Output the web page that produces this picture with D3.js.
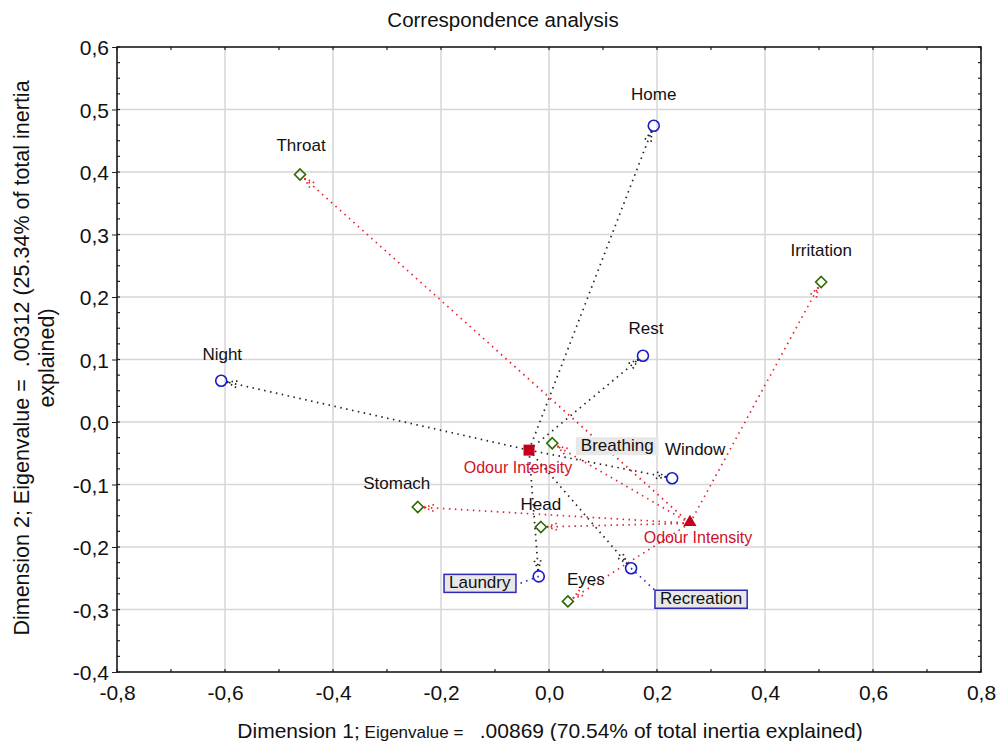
<!DOCTYPE html>
<html>
<head>
<meta charset="utf-8">
<script src="https://cdn.jsdelivr.net/npm/d3@7"></script>
<style>
  html, body { margin: 0; padding: 0; background: #fff; }
  svg { display: block; }
  text { font-family: "Liberation Sans", Arial, sans-serif; }
</style>
</head>
<body>
<svg id="chart" width="996" height="741"></svg>
<script>
// ---------- DATA ----------
const rowNames = ["Home", "Rest", "Night", "Window", "Laundry", "Recreation"];
const rowDim1  = [0.194, 0.174, -0.607, 0.228, -0.019, 0.152];
const rowDim2  = [0.474, 0.106, 0.066, -0.090, -0.247, -0.234];

const colNames = ["Throat", "Irritation", "Breathing", "Stomach", "Head", "Eyes"];
const colDim1  = [-0.461, 0.504, 0.006, -0.243, -0.015, 0.035];
const colDim2  = [0.396, 0.224, -0.034, -0.136, -0.168, -0.287];

const suppNames = ["Odour Intensity", "Odour Intensity"];
const suppDim1  = [-0.037, 0.261];
const suppDim2  = [-0.045, -0.162];

const xTicks = [-0.8, -0.6, -0.4, -0.2, 0.0, 0.2, 0.4, 0.6, 0.8];
const yTicks = [-0.4, -0.3, -0.2, -0.1, 0.0, 0.1, 0.2, 0.3, 0.4, 0.5, 0.6];

const title = "Correspondence analysis";
const xTitle = ["Dimension 1;", " Eigenvalue = ", "  .00869 (70.54% of total inertia explained)"];
const yTitle = ["Dimension 2; Eigenvalue =  .00312 (25.34% of total inertia", "explained)"];

// ---------- LAYOUT ----------
const svg = d3.select("#chart");
const L = 117, R = 981, T = 47, B = 672;
const x = d3.scaleLinear().domain([-0.8, 0.8]).range([L, R]);
const y = d3.scaleLinear().domain([-0.4, 0.6]).range([B, T]);
const fmt = v => d3.format(".1f")(v).replace(".", ",").replace("\u2212", "-");

const rows = rowNames.map((n, i) => ({ name: n, x: rowDim1[i], y: rowDim2[i] }));
const cols = colNames.map((n, i) => ({ name: n, x: colDim1[i], y: colDim2[i] }));
const supp = suppNames.map((n, i) => ({ name: n, x: suppDim1[i], y: suppDim2[i] }));

// grid
const grid = svg.append("g");
grid.selectAll("line.vx").data(xTicks.slice(1, -1)).join("line")
  .attr("x1", d => x(d)).attr("x2", d => x(d)).attr("y1", T).attr("y2", B)
  .attr("stroke", "#d6d6d6").attr("stroke-width", 1.5);
grid.selectAll("line.hy").data(yTicks.slice(1, -1)).join("line")
  .attr("y1", d => y(d)).attr("y2", d => y(d)).attr("x1", L).attr("x2", R)
  .attr("stroke", "#d6d6d6").attr("stroke-width", 1.5);

// axes
const xMinor = d3.range(-0.8, 0.8001, 0.1);
const yMinor = d3.range(-0.4, 0.6001, 0.025);

const axB = svg.append("g").attr("transform", `translate(0,${B})`)
  .call(d3.axisBottom(x).tickValues(xTicks).tickFormat(fmt).tickSize(0).tickPadding(13));
const axL = svg.append("g").attr("transform", `translate(${L},0)`)
  .call(d3.axisLeft(y).tickValues(yTicks).tickFormat(fmt).tickSize(5).tickPadding(3));
[axB, axL].forEach(a => {
  a.select(".domain").remove();
  a.selectAll("text").attr("font-size", 21).attr("fill", "#111")
    .attr("font-family", "'Liberation Sans', Arial, sans-serif");
  a.selectAll("line").attr("stroke", "#222");
});
axL.selectAll("text").attr("dy", "0.36em");

// minor ticks (inward)
const mt = svg.append("g").attr("stroke", "#222").attr("stroke-width", 1.2);
mt.selectAll("line.bt").data(xMinor).join("line")
  .attr("x1", d => x(d)).attr("x2", d => x(d)).attr("y1", B).attr("y2", B - 3);
mt.selectAll("line.tt").data(xMinor).join("line")
  .attr("x1", d => x(d)).attr("x2", d => x(d)).attr("y1", T).attr("y2", T + 3);
mt.selectAll("line.lt").data(yMinor).join("line")
  .attr("y1", d => y(d)).attr("y2", d => y(d)).attr("x1", L).attr("x2", L + 3);
mt.selectAll("line.rt").data(yMinor).join("line")
  .attr("y1", d => y(d)).attr("y2", d => y(d)).attr("x1", R).attr("x2", R - 3);

// frame
svg.append("rect").attr("x", L).attr("y", T).attr("width", R - L).attr("height", B - T)
  .attr("fill", "none").attr("stroke", "#1a1a1a").attr("stroke-width", 1.6);

// ---------- LINKS ----------
const links = svg.append("g");
function arrow(from, to, color, r) {
  const x0 = x(from.x), y0 = y(from.y), x1 = x(to.x), y1 = y(to.y);
  const ang = Math.atan2(y1 - y0, x1 - x0);
  const tx = x1 - Math.cos(ang) * r, ty = y1 - Math.sin(ang) * r;
  const g = links.append("g").attr("stroke", color).attr("stroke-width", 1.7)
    .attr("stroke-dasharray", "1.5,4.5").attr("fill", "none");
  g.append("line").attr("x1", x0).attr("y1", y0).attr("x2", tx).attr("y2", ty);
  [0.32, -0.32].forEach(a => {
    g.append("line").attr("x1", tx).attr("y1", ty)
      .attr("x2", tx - Math.cos(ang + a) * 13).attr("y2", ty - Math.sin(ang + a) * 13)
      .attr("stroke-dasharray", "1.5,3");
  });
}
rows.forEach(p => arrow(supp[0], p, "#222", 6));
cols.forEach(p => arrow(supp[1], p, "#e8202a", 6));

// ---------- LABELS ----------
const labelStyle = {
  "Home": { dx: 0, dy: -26 }, "Rest": { dx: 3, dy: -22 }, "Night": { dx: 1, dy: -21 },
  "Window": { dx: 23, dy: -23 }, "Laundry": { dx: -59, dy: 12, box: "blue" },
  "Recreation": { dx: 70, dy: 36, box: "blue" },
  "Throat": { dx: 1, dy: -24 }, "Irritation": { dx: 0, dy: -26 },
  "Breathing": { dx: 65, dy: 8, box: "grey" }, "Stomach": { dx: -21, dy: -18 },
  "Head": { dx: 0, dy: -17 }, "Eyes": { dx: 18, dy: -16 }
};

const connectors = svg.append("g");
const boxLayer = svg.append("g");
const textLayer = svg.append("g");

function addLabel(p) {
  const s = labelStyle[p.name];
  const t = textLayer.append("text")
    .attr("x", x(p.x) + s.dx).attr("y", y(p.y) + s.dy)
    .attr("text-anchor", "middle").attr("font-size", 17).attr("fill", "#111")
    .text(p.name);
  if (s.box) {
    const bb = t.node().getBBox();
    boxLayer.append("rect")
      .attr("x", bb.x - 5).attr("y", bb.y + 1).attr("width", bb.width + 10).attr("height", bb.height - 1)
      .attr("fill", "#e8e8e8")
      .attr("stroke", s.box === "blue" ? "#2a2ab8" : "none").attr("stroke-width", 1.5);
    if (s.box === "blue") {
      const cx = x(p.x), cy = y(p.y);
      const ex = s.dx < 0 ? bb.x + bb.width + 5 : bb.x - 5;
      const ey = s.dx < 0 ? bb.y + bb.height / 2 + 2 : bb.y + 1;
      connectors.append("line").attr("x1", cx).attr("y1", cy).attr("x2", ex).attr("y2", ey)
        .attr("stroke", "#2a2ab8").attr("stroke-width", 1.7).attr("stroke-dasharray", "1.5,4.5");
    }
  }
}
rows.forEach(addLabel);
cols.forEach(addLabel);

// supplementary labels
const suppLabelStyle = [{ dx: -11, dy: 23 }, { dx: 8, dy: 20 }];
supp.forEach((p, i) => {
  textLayer.append("text")
    .attr("x", x(p.x) + suppLabelStyle[i].dx).attr("y", y(p.y) + suppLabelStyle[i].dy)
    .attr("text-anchor", "middle").attr("font-size", 16)
    .attr("font-family", "Lato, 'Open Sans', sans-serif")
    .attr("fill", "#d0102a").text(p.name);
});

// ---------- MARKERS ----------
const marks = svg.append("g");
marks.selectAll("circle").data(rows).join("circle")
  .attr("cx", d => x(d.x)).attr("cy", d => y(d.y)).attr("r", 5.5)
  .attr("fill", "none").attr("stroke", "#1a1acc").attr("stroke-width", 1.6);
marks.selectAll("path.dia").data(cols).join("path")
  .attr("d", d => {
    const cx = x(d.x), cy = y(d.y), s = 5.5;
    return `M${cx},${cy - s}L${cx + s},${cy}L${cx},${cy + s}L${cx - s},${cy}Z`;
  })
  .attr("fill", "none").attr("stroke", "#2b6a00").attr("stroke-width", 1.6);
marks.append("rect")
  .attr("x", x(supp[0].x) - 5.5).attr("y", y(supp[0].y) - 5.5).attr("width", 11).attr("height", 11)
  .attr("fill", "#c4001c");
marks.append("path")
  .attr("d", d3.symbol().type(d3.symbolTriangle).size(75)())
  .attr("transform", `translate(${x(supp[1].x)},${y(supp[1].y) - 1})`)
  .attr("fill", "#c4001c");

// ---------- TITLES ----------
svg.append("text").attr("x", 503).attr("y", 27).attr("text-anchor", "middle")
  .attr("font-size", 20.5).attr("fill", "#111").text(title);

const xt = svg.append("text").attr("x", 550).attr("y", 738).attr("text-anchor", "middle")
  .attr("fill", "#111").attr("font-size", 21).attr("xml:space", "preserve");
xt.append("tspan").text(xTitle[0]);
xt.append("tspan").attr("font-size", 17).text(xTitle[1]);
xt.append("tspan").text(xTitle[2]);

const yt = svg.append("g").attr("transform", "translate(0,358) rotate(-90)");
yt.append("text").attr("x", 0).attr("y", 29).attr("text-anchor", "middle")
  .attr("font-size", 21.5).attr("fill", "#111").attr("xml:space", "preserve").text(yTitle[0]);
yt.append("text").attr("x", 0).attr("y", 54).attr("text-anchor", "middle")
  .attr("font-size", 21.5).attr("fill", "#111").text(yTitle[1]);
</script>
</body>
</html>
